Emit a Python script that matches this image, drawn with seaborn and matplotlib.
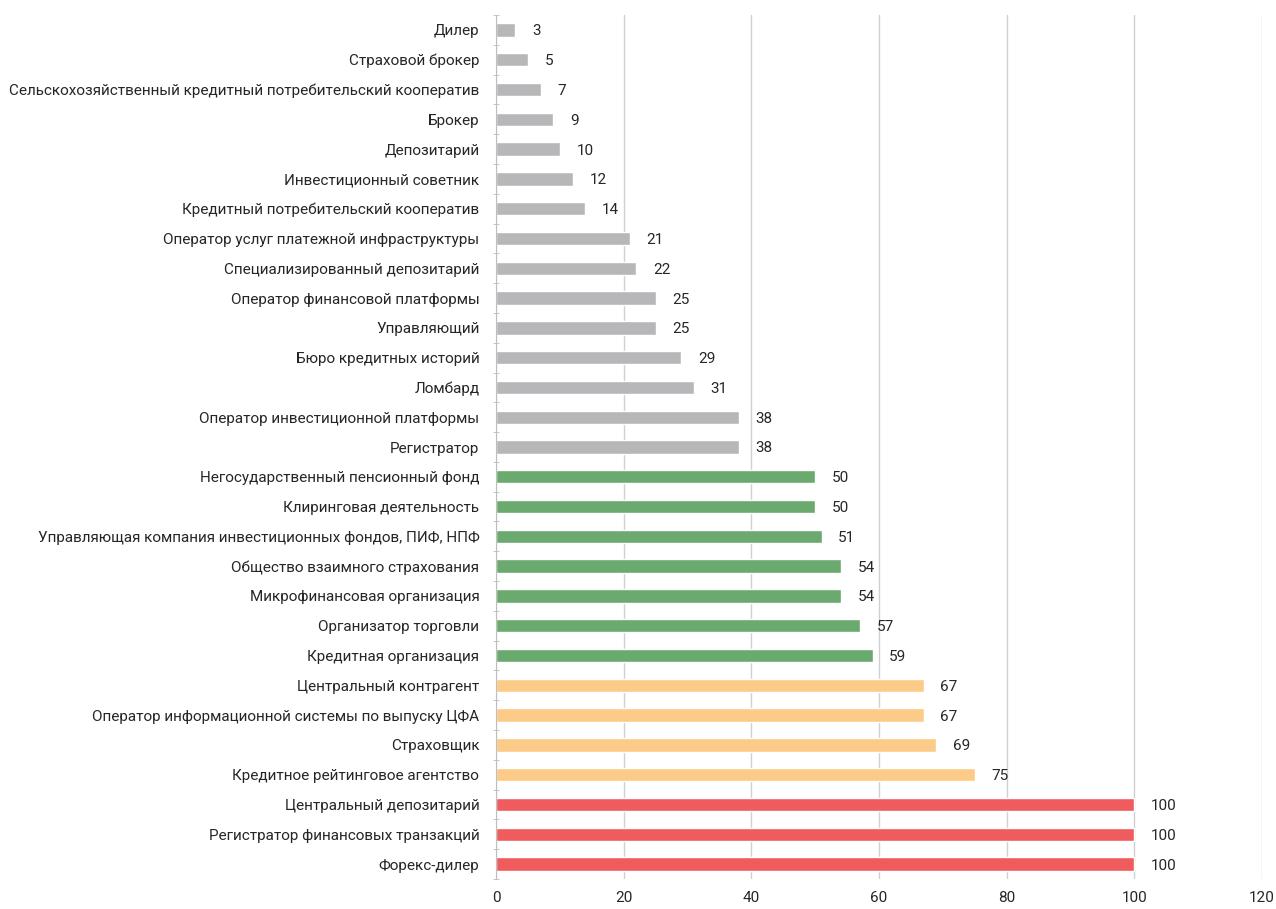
import matplotlib
matplotlib.use('Agg')
import matplotlib.pyplot as plt
import seaborn as sns
import pandas as pd
import numpy as np

# Categories and values, top to bottom as in the chart
categories = [
    'Дилер', 'Страховой брокер',
    'Сельскохозяйственный кредитный потребительский кооператив',
    'Брокер', 'Депозитарий', 'Инвестиционный советник',
    'Кредитный потребительский кооператив',
    'Оператор услуг платежной инфраструктуры',
    'Специализированный депозитарий', 'Оператор финансовой платформы',
    'Управляющий', 'Бюро кредитных историй', 'Ломбард',
    'Оператор инвестиционной платформы', 'Регистратор',
    'Негосударственный пенсионный фонд', 'Клиринговая деятельность',
    'Управляющая компания инвестиционных фондов, ПИФ, НПФ',
    'Общество взаимного страхования', 'Микрофинансовая организация',
    'Организатор торговли', 'Кредитная организация',
    'Центральный контрагент',
    'Оператор информационной системы по выпуску ЦФА',
    'Страховщик', 'Кредитное рейтинговое агентство',
    'Центральный депозитарий', 'Регистратор финансовых транзакций',
    'Форекс-дилер',
]
values = [3, 5, 7, 9, 10, 12, 14, 21, 22, 25, 25, 29, 31, 38, 38,
          50, 50, 51, 54, 54, 57, 59, 67, 67, 69, 75, 100, 100, 100]
groups = ['low'] * 15 + ['mid'] * 7 + ['high'] * 4 + ['top'] * 3
x_ticks = [0, 20, 40, 60, 80, 100, 120]

palette = {'low': '#B7B7B9', 'mid': '#6BAA6E', 'high': '#FCCB87', 'top': '#F05B5E'}

df = pd.DataFrame({'category': categories, 'value': values, 'group': groups})

sns.set_style('white')
plt.rcParams['font.family'] = ['Roboto', 'DejaVu Sans']

fig = plt.figure(figsize=(12.76, 9.09), dpi=100)
ax = fig.add_axes([496 / 1276, 1 - 879 / 909, (1262 - 496) / 1276, (879 - 15) / 909])

sns.barplot(data=df, x='value', y='category', hue='group', palette=palette,
            dodge=False, legend=False, width=0.45, saturation=1, ax=ax)

ax.set_xlim(0, 120)
ax.set_ylim(len(categories) - 0.5, -0.5)
ax.set_xticks(x_ticks)
ax.xaxis.grid(True, color='#D0D0D0', linewidth=1)
ax.set_axisbelow(True)

# value labels
for i, v in enumerate(values):
    ax.annotate(str(v), (v, i), xytext=(12, 0), textcoords='offset points',
                va='center_baseline', ha='left', fontsize=11, color='#262626')

for s in ['top', 'right', 'bottom']:
    ax.spines[s].set_visible(False)
ax.spines['left'].set_color('#BFBFBF')

ax.set_yticks(np.arange(len(categories)))
ax.set_yticklabels(categories)
ax.set_yticks(np.arange(-1, len(categories)) + 0.5, minor=True)
ax.tick_params(axis='y', which='major', length=0, pad=12, labelsize=11, labelcolor='#262626')
ax.tick_params(axis='y', which='minor', length=5, direction='inout', color='#BFBFBF', left=True)
ax.tick_params(axis='x', length=0, pad=9, labelsize=11, labelcolor='#262626')

ax.set_xlabel('')
ax.set_ylabel('')

fig.savefig('out.png', dpi=100)
